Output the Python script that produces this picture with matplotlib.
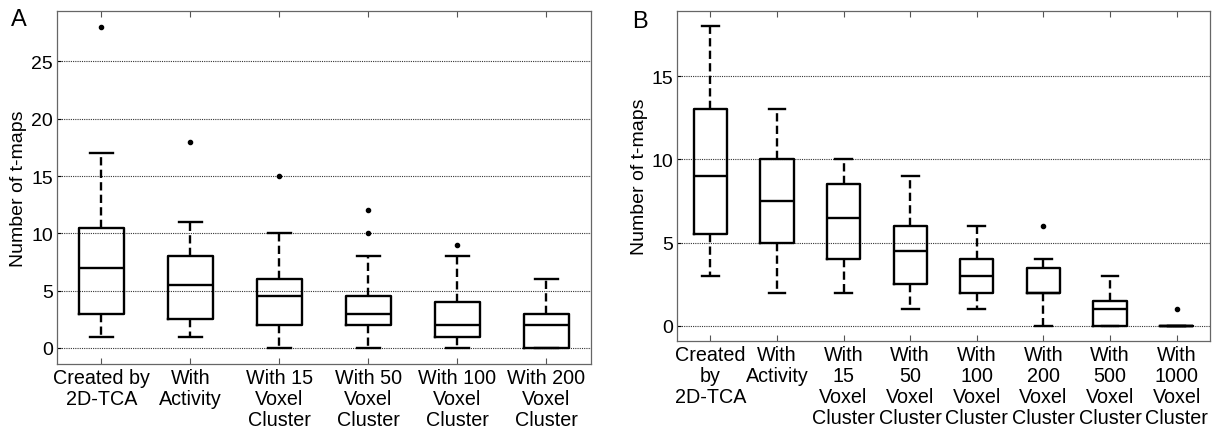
import matplotlib
matplotlib.use('Agg')
import matplotlib.pyplot as plt

plt.rcParams['font.family'] = ['Liberation Sans', 'DejaVu Sans']

# panel A: whisker low, q1, median, q3, whisker high, outliers
labels_a = ['Created by\n2D-TCA', 'With\nActivity', 'With 15\nVoxel\nCluster',
            'With 50\nVoxel\nCluster', 'With 100\nVoxel\nCluster', 'With 200\nVoxel\nCluster']
whislo_a = [1, 1, 0, 0, 0, 0]
q1_a = [3, 2.5, 2, 2, 1, 0]
med_a = [7, 5.5, 4.5, 3, 2, 2]
q3_a = [10.5, 8, 6, 4.5, 4, 3]
whishi_a = [17, 11, 10, 8, 8, 6]
fliers_a = [[28], [18], [15], [10, 12], [9], []]

# panel B
labels_b = ['Created\nby\n2D-TCA', 'With\nActivity', 'With\n15\nVoxel\nCluster',
            'With\n50\nVoxel\nCluster', 'With\n100\nVoxel\nCluster', 'With\n200\nVoxel\nCluster',
            'With\n500\nVoxel\nCluster', 'With\n1000\nVoxel\nCluster']
whislo_b = [3, 2, 2, 1, 1, 0, 0, 0]
q1_b = [5.5, 5, 4, 2.5, 2, 2, 0, 0]
med_b = [9, 7.5, 6.5, 4.5, 3, 2, 1, 0]
q3_b = [13, 10, 8.5, 6, 4, 3.5, 1.5, 0]
whishi_b = [18, 13, 10, 9, 6, 4, 3, 0]
fliers_b = [[], [], [], [], [], [6], [], [1]]


def make_stats(lo, q1, med, q3, hi, fl):
    return [dict(whislo=a, q1=b, med=c, q3=d, whishi=e, fliers=f)
            for a, b, c, d, e, f in zip(lo, q1, med, q3, hi, fl)]


def draw_panel(ax, stats, labels, ylim, yticks):
    lw = 1.7
    ax.bxp(stats, widths=0.5, capwidths=0.25, showfliers=True,
           boxprops=dict(color='black', linewidth=lw),
           medianprops=dict(color='black', linewidth=lw),
           whiskerprops=dict(color='black', linewidth=lw, linestyle=(0, (3.5, 1.8))),
           capprops=dict(color='black', linewidth=lw),
           flierprops=dict(marker='o', markersize=3, markerfacecolor='black',
                           markeredgecolor='black'))
    ax.set_xlim(0.5, len(stats) + 0.5)
    ax.set_ylim(*ylim)
    ax.set_yticks(yticks)
    ax.set_xticks(range(1, len(stats) + 1))
    ax.set_xticklabels(labels, fontsize=14.2, linespacing=1.13)
    ax.tick_params(axis='y', labelsize=14, direction='in', length=3, pad=3)
    ax.tick_params(axis='x', direction='in', top=True, length=4, pad=3, color='#555555')
    ax.yaxis.grid(True, color='#333333', linestyle=(0, (1, 1)), linewidth=0.8)
    ax.set_axisbelow(True)
    for sp in ax.spines.values():
        sp.set_color('#666666')
        sp.set_linewidth(0.9)
    ax.set_ylabel('Number of t-maps', fontsize=14)


fig = plt.figure(figsize=(12.2, 4.35), dpi=100)
ax1 = fig.add_axes([0.0467, 0.1609, 0.4377, 0.8115])
ax2 = fig.add_axes([0.5549, 0.2138, 0.4369, 0.7586])

draw_panel(ax1, make_stats(whislo_a, q1_a, med_a, q3_a, whishi_a, fliers_a),
           labels_a, (-1.4, 29.4), [0, 5, 10, 15, 20, 25])
draw_panel(ax2, make_stats(whislo_b, q1_b, med_b, q3_b, whishi_b, fliers_b),
           labels_b, (-0.9, 18.9), [0, 5, 10, 15])

ax1.yaxis.set_label_coords(-0.056, 0.5)
ax2.yaxis.set_label_coords(-0.054, 0.5)

fig.text(0.0156, 0.954, 'A', fontsize=17, ha='center', va='center')
fig.text(0.5246, 0.949, 'B', fontsize=17, ha='center', va='center')

fig.savefig('out.png', dpi=100)
